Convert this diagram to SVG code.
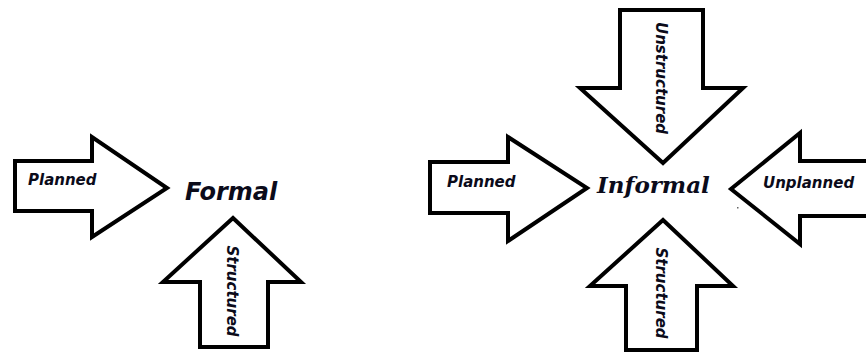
<svg xmlns="http://www.w3.org/2000/svg" width="866" height="352" viewBox="0 0 866 352">
  <style>
    .arrow { fill: #ffffff; stroke: #000000; stroke-width: 4; stroke-linejoin: miter; }
    .lbl { font-family: "DejaVu Sans", Verdana, sans-serif; font-weight: bold; font-style: italic; font-size: 15px; fill: #0b0b1a; }
    .main { font-family: "DejaVu Sans", Verdana, sans-serif; font-weight: bold; font-style: italic; font-size: 24px; fill: #0b0b1a; }
    .main-serif { font-family: "DejaVu Serif", "Liberation Serif", serif; font-weight: bold; font-style: italic; font-size: 23px; fill: #0b0b1a; }
  </style>
  <rect width="866" height="352" fill="#ffffff"/>

  <g id="connectors">
    <g id="arrow-formal-planned">
      <polygon class="arrow" points="15,161 92,161 92,137 167,188 92,237 92,211 15,211"/>
      <text class="lbl" x="28" y="185">Planned</text>
    </g>
    <g id="arrow-formal-structured">
      <polygon class="arrow" points="233,218 301,282 268,282 268,347 200,347 200,282 163,282"/>
      <text class="lbl" text-anchor="middle" transform="translate(227,291) rotate(90)">Structured</text>
    </g>
    <g id="arrow-informal-unstructured">
      <polygon class="arrow" points="620,10 703,10 703,88 743,88 663,163 580,88 620,88"/>
      <text class="lbl" text-anchor="middle" transform="translate(656,78) rotate(90)">Unstructured</text>
    </g>
    <g id="arrow-informal-planned">
      <polygon class="arrow" points="430,162 508,162 508,137 587,188 508,241 508,213 430,213"/>
      <text class="lbl" x="447" y="187">Planned</text>
    </g>
    <g id="arrow-informal-structured">
      <polygon class="arrow" points="663,220 733,286 697,286 697,350 626,350 626,286 590,286"/>
      <text class="lbl" text-anchor="middle" transform="translate(656,293) rotate(90)">Structured</text>
    </g>
    <g id="arrow-informal-unplanned">
      <polygon class="arrow" points="872,161 800,161 800,133 731,189 800,244 800,216 872,216"/>
      <text class="lbl" x="763" y="188">Unplanned</text>
    </g>
  </g>

  <g id="node-formal">
    <text class="main" x="185" y="200">Formal</text>
  </g>
  <g id="node-informal">
    <text class="main-serif" x="597" y="193">Informal</text>
  </g>

  <rect x="737" y="207" width="1.5" height="1.5" fill="#666666"/>
</svg>
